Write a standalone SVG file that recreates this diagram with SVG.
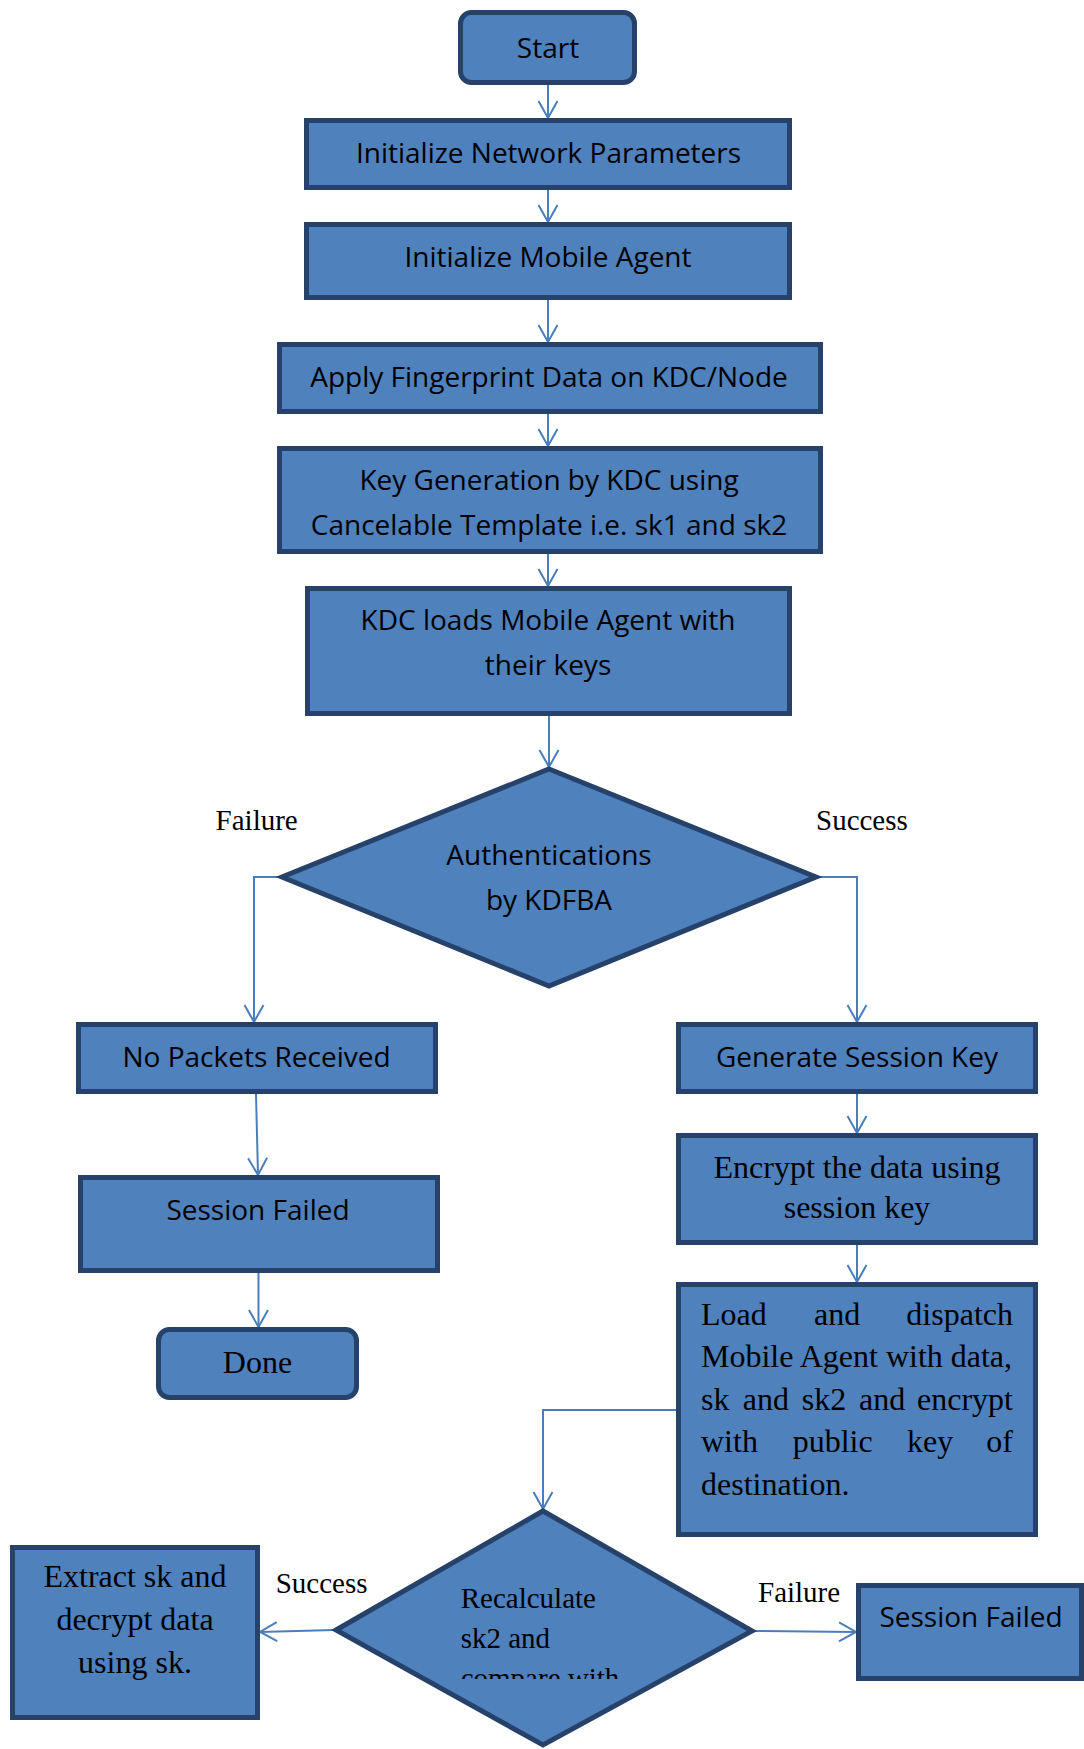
<svg xmlns="http://www.w3.org/2000/svg" width="1084" height="1749" viewBox="0 0 1084 1749">
  <style>
    .box { fill: #4f81bd; stroke: #26426a; stroke-width: 5; }
    .sans { font-family: "Open Sans", "Noto Sans", sans-serif; font-size: 28px; fill: #000; }
    .serif { font-family: "Liberation Serif", "Times New Roman", serif; font-size: 32px; fill: #000; }
    .label { font-family: "Liberation Serif", "Times New Roman", serif; font-size: 29px; fill: #000; }
    .mid { text-anchor: middle; }
    .end { text-anchor: end; }
    .conn { fill: none; stroke: #4a7ebb; stroke-width: 2; marker-end: url(#arrow); }
  </style>
  <defs>
    <marker id="arrow" markerUnits="userSpaceOnUse" markerWidth="22" markerHeight="22" refX="18" refY="10" orient="auto" overflow="visible">
      <path d="M1,0.5 L18,10 L1,19.5" fill="none" stroke="#4a7ebb" stroke-width="2"/>
    </marker>
    <clipPath id="recalcClip">
      <rect x="430" y="1570" width="230" height="109"/>
    </clipPath>
  </defs>

  <rect width="1084" height="1749" fill="#ffffff"/>

  <!-- connectors -->
  <g id="connectors">
    <path class="conn" d="M548 85 V118"/>
    <path class="conn" d="M548 190 V222"/>
    <path class="conn" d="M548 300 V342"/>
    <path class="conn" d="M548 414 V446"/>
    <path class="conn" d="M548 554 V586"/>
    <path class="conn" d="M549 716 V767"/>
    <path class="conn" d="M280 877 H254 V1022"/>
    <path class="conn" d="M818 877 H857 V1022"/>
    <path class="conn" d="M256 1094 L258 1175"/>
    <path class="conn" d="M258.5 1273 V1327"/>
    <path class="conn" d="M857 1094 V1133"/>
    <path class="conn" d="M857 1245 V1282"/>
    <path class="conn" d="M676 1410 H543 V1509"/>
    <path class="conn" d="M334 1630 L260 1632"/>
    <path class="conn" d="M754 1631 L856 1632"/>
  </g>

  <!-- edge labels -->
  <g id="edge-labels">
    <text class="label" x="215.6" y="830">Failure</text>
    <text class="label" x="816" y="830">Success</text>
    <text class="label" x="275.7" y="1593">Success</text>
    <text class="label" x="758" y="1602">Failure</text>
  </g>

  <g id="start">
    <rect class="box" x="460.5" y="12.5" width="174" height="70" rx="11"/>
    <text class="sans mid" x="548" y="58">Start</text>
  </g>

  <g id="init-network">
    <rect class="box" x="306.5" y="120.5" width="483" height="67"/>
    <text class="sans mid" x="548.5" y="163">Initialize Network Parameters</text>
  </g>

  <g id="init-agent">
    <rect class="box" x="306.5" y="224.5" width="483" height="73"/>
    <text class="sans mid" x="548" y="267">Initialize Mobile Agent</text>
  </g>

  <g id="fingerprint">
    <rect class="box" x="279.5" y="344.5" width="541" height="67"/>
    <text class="sans mid" x="549" y="387">Apply Fingerprint Data on KDC/Node</text>
  </g>

  <g id="key-generation">
    <rect class="box" x="279.5" y="448.5" width="541" height="103"/>
    <text class="sans mid" x="549" y="490">Key Generation by KDC using</text>
    <text class="sans mid" x="549" y="535">Cancelable Template i.e. sk1 and sk2</text>
  </g>

  <g id="kdc-loads">
    <rect class="box" x="307.5" y="588.5" width="482" height="125"/>
    <text class="sans mid" x="548" y="630">KDC loads Mobile Agent with</text>
    <text class="sans mid" x="548" y="675">their keys</text>
  </g>

  <g id="authentication">
    <polygon class="box" points="549,769 816,877 549,986 282,877"/>
    <text class="sans mid" x="549" y="865">Authentications</text>
    <text class="sans mid" x="549" y="910">by KDFBA</text>
  </g>

  <g id="no-packets">
    <rect class="box" x="78.5" y="1024.5" width="357" height="67"/>
    <text class="sans mid" x="256.5" y="1067">No Packets Received</text>
  </g>

  <g id="session-failed-left">
    <rect class="box" x="80.5" y="1177.5" width="357" height="93"/>
    <text class="sans mid" x="258" y="1220">Session Failed</text>
  </g>

  <g id="done">
    <rect class="box" x="158.5" y="1329.5" width="198" height="68" rx="11"/>
    <text class="serif mid" x="257.5" y="1373">Done</text>
  </g>

  <g id="session-key">
    <rect class="box" x="678.5" y="1024.5" width="357" height="67"/>
    <text class="sans mid" x="857" y="1067">Generate Session Key</text>
  </g>

  <g id="encrypt">
    <rect class="box" x="678.5" y="1135.5" width="357" height="107"/>
    <text class="serif mid" x="857" y="1177.5">Encrypt the data using</text>
    <text class="serif mid" x="857" y="1218">session key</text>
  </g>

  <g id="dispatch">
    <rect class="box" x="678.5" y="1284.5" width="357" height="250"/>
    <!-- justified paragraph, words placed per line -->
    <text class="serif" x="701" y="1325">Load</text>
    <text class="serif" x="814" y="1325">and</text>
    <text class="serif end" x="1013" y="1325">dispatch</text>
    <text class="serif" x="701" y="1367">Mobile Agent with data,</text>
    <text class="serif" x="701" y="1410">sk</text>
    <text class="serif" x="742.7" y="1410">and</text>
    <text class="serif" x="801.7" y="1410">sk2</text>
    <text class="serif" x="859" y="1410">and</text>
    <text class="serif end" x="1013" y="1410">encrypt</text>
    <text class="serif" x="701" y="1452">with</text>
    <text class="serif" x="792.7" y="1452">public</text>
    <text class="serif" x="907" y="1452">key</text>
    <text class="serif end" x="1013" y="1452">of</text>
    <text class="serif" x="701" y="1495">destination.</text>
  </g>

  <g id="recalculate">
    <polygon class="box" points="543,1511 752,1631 543,1745 336,1630"/>
    <g clip-path="url(#recalcClip)">
      <text class="label" x="460.7" y="1608">Recalculate</text>
      <text class="label" x="460.7" y="1648">sk2 and</text>
      <text class="label" x="460.7" y="1688">compare with</text>
    </g>
  </g>

  <g id="extract">
    <rect class="box" x="12.5" y="1547.5" width="245" height="170"/>
    <text class="serif mid" x="135" y="1587">Extract sk and</text>
    <text class="serif mid" x="135" y="1630">decrypt data</text>
    <text class="serif mid" x="135" y="1673">using sk.</text>
  </g>

  <g id="session-failed-right">
    <rect class="box" x="858.5" y="1585.5" width="223" height="93"/>
    <text class="sans mid" x="971" y="1627">Session Failed</text>
  </g>
</svg>
